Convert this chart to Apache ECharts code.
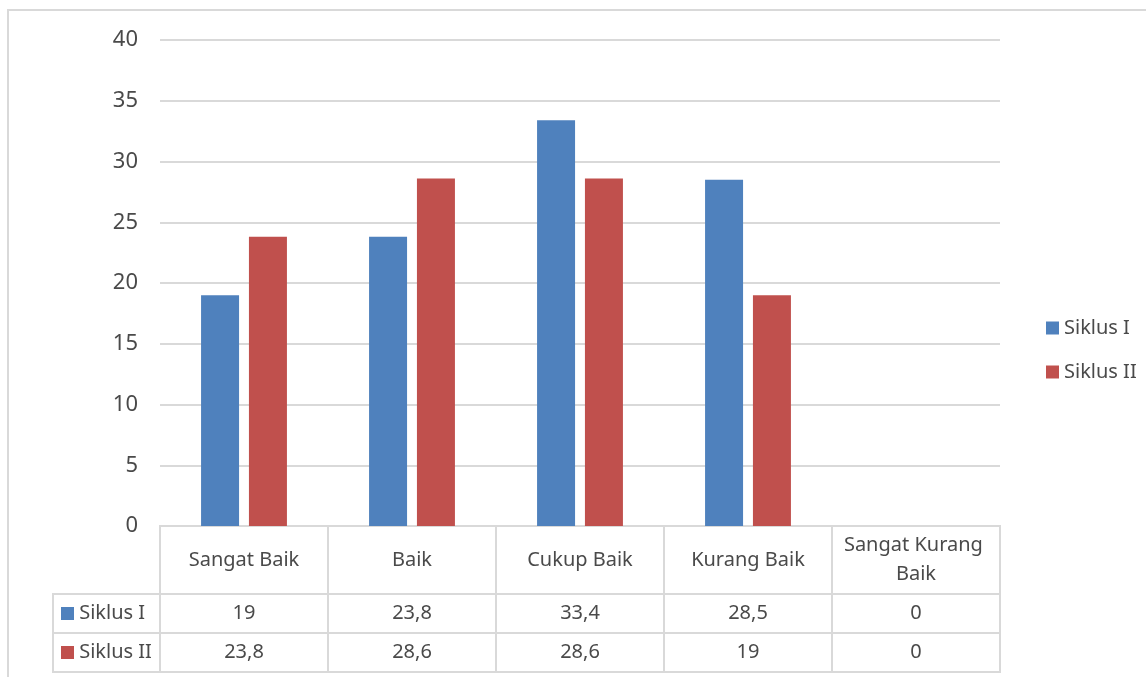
<!DOCTYPE html>
<html>
<head>
<meta charset="utf-8">
<script src="https://cdn.jsdelivr.net/npm/echarts@6/dist/echarts.min.js"></script>
<style>
  html, body { margin: 0; padding: 0; background: #fff; }
  #main { width: 1146px; height: 677px; }
</style>
</head>
<body>
<div id="main"></div>
<script>
var categories = ['Sangat Baik', 'Baik', 'Cukup Baik', 'Kurang Baik', 'Sangat Kurang Baik'];
var siklus1 = [19, 23.8, 33.4, 28.5, 0];
var siklus2 = [23.8, 28.6, 28.6, 19, 0];
var seriesNames = ['Siklus I', 'Siklus II'];
var colors = ['#4F81BD', '#C0504D'];

var chart = echarts.init(document.getElementById('main'));
var font = 'Noto Sans';
var txt = '#4a4a4a';
var line = '#D9D9D9';
var fs = 20;

function fmt(v) { return String(v).replace('.', ','); }

function cellData(vals, row) {
  return vals.map(function (v, i) { return [categories[i], row, v]; });
}

var hiddenCat = function (idx, data) {
  return {
    type: 'category', gridIndex: idx, data: data,
    axisLine: { show: false }, axisTick: { show: false }, axisLabel: { show: false },
    splitLine: { show: true, lineStyle: { color: line, width: 2 } }
  };
};

// label style for the table cells (scatter with invisible symbols)
var cellLabel = {
  show: true, position: 'inside', fontSize: fs, color: txt, fontFamily: font,
  textBorderWidth: 0, textBorderColor: 'transparent', opacity: 1
};

var option = {
  color: colors,
  textStyle: { fontFamily: font, color: txt },
  graphic: [{
    type: 'rect', z: -1,
    shape: { x: 8, y: 10, width: 1300, height: 720 },
    style: { fill: 'none', stroke: line, lineWidth: 2 }
  }],
  legend: {
    orient: 'vertical', left: 1041, top: 313, itemGap: 24,
    itemWidth: 13, itemHeight: 13, icon: 'rect',
    data: seriesNames,
    textStyle: { fontFamily: font, fontSize: fs, color: txt }
  },
  grid: [
    { left: 160, top: 40, width: 840, height: 486 },
    { left: 160, top: 526, width: 840, height: 68, show: true, borderColor: line, borderWidth: 2 },
    { left: 160, top: 594, width: 840, height: 78, show: true, borderColor: line, borderWidth: 2 },
    { left: 53, top: 594, width: 107, height: 78, show: true, borderColor: line, borderWidth: 2 }
  ],
  xAxis: [
    {
      type: 'category', gridIndex: 0, data: categories,
      axisLine: { lineStyle: { color: line, width: 2 } },
      axisTick: { show: false }, axisLabel: { show: false }
    },
    hiddenCat(1, categories),
    hiddenCat(2, categories),
    { type: 'category', gridIndex: 3, data: [''], show: false }
  ],
  yAxis: [
    {
      type: 'value', gridIndex: 0, min: 0, max: 40, interval: 5,
      axisLine: { show: false }, axisTick: { show: false },
      axisLabel: { fontSize: 22, color: txt, margin: 22, fontFamily: font },
      splitLine: { lineStyle: { color: line, width: 2 } }
    },
    { type: 'category', gridIndex: 1, data: ['h'], show: false },
    {
      type: 'category', gridIndex: 2, data: seriesNames, inverse: true,
      axisLine: { show: false }, axisTick: { show: false }, axisLabel: { show: false },
      splitLine: { show: true, lineStyle: { color: line, width: 2 } }
    },
    {
      type: 'category', gridIndex: 3, data: seriesNames, inverse: true,
      axisLine: { show: false }, axisTick: { show: false },
      splitLine: { show: true, lineStyle: { color: line, width: 2 } },
      axisLabel: {
        inside: true, margin: 8, fontSize: fs, color: txt, fontFamily: font,
        formatter: function (v, i) { return '{b' + i + '|} ' + v; },
        rich: {
          b0: { width: 13, height: 13, backgroundColor: colors[0] },
          b1: { width: 13, height: 13, backgroundColor: colors[1] }
        }
      }
    }
  ],
  series: [
    {
      name: seriesNames[0], type: 'bar', xAxisIndex: 0, yAxisIndex: 0,
      data: siklus1, barWidth: 38, barGap: '26%'
    },
    {
      name: seriesNames[1], type: 'bar', xAxisIndex: 0, yAxisIndex: 0,
      data: siklus2, barWidth: 38, barGap: '26%'
    },
    {
      type: 'scatter', xAxisIndex: 1, yAxisIndex: 1, symbolSize: 0, silent: true,
      itemStyle: { color: txt },
      data: categories.map(function (c) { return [c, 'h']; }),
      label: Object.assign({}, cellLabel, {
        width: 150, overflow: 'break', align: 'center', lineHeight: 29,
        formatter: function (p) { return p.value[0]; }
      })
    },
    {
      type: 'scatter', xAxisIndex: 2, yAxisIndex: 2, symbolSize: 0, silent: true,
      itemStyle: { color: txt },
      data: cellData(siklus1, seriesNames[0]).concat(cellData(siklus2, seriesNames[1])),
      label: Object.assign({}, cellLabel, {
        formatter: function (p) { return fmt(p.value[2]); }
      })
    }
  ]
};

chart.setOption(option);
</script>
</body>
</html>
